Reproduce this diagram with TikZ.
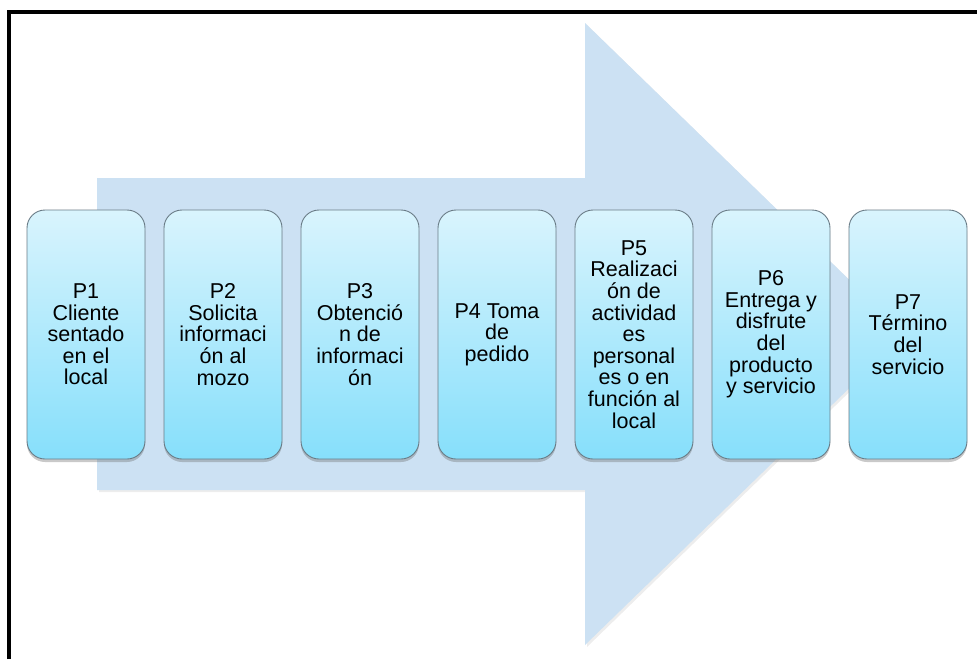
\documentclass[tikz,border=0pt]{standalone}
\usepackage{fontspec}
\setmainfont{Liberation Sans}
\usetikzlibrary{shadows}
\definecolor{arrowfill}{HTML}{CCE1F3}
\definecolor{boxtop}{HTML}{D9F4FD}
\definecolor{boxbottom}{HTML}{86DFFB}
\definecolor{boxline}{HTML}{6A7C87}
\tikzset{
  stepbox/.style={rectangle, rounded corners=18pt, draw=boxline, line width=0.9pt,
    top color=boxtop, bottom color=boxbottom,
    minimum width=118pt, minimum height=249pt, inner sep=1pt,
    align=center, font=\fontsize{21.5}{21.6}\selectfont,
    drop shadow={shadow xshift=0pt, shadow yshift=-3pt, opacity=0.35, fill=black!60}},
}
\begin{document}
\begin{tikzpicture}[x=1pt, y=-1pt]
  \useasboundingbox (0,0) rectangle (977,659);
  \fill[white] (0,0) rectangle (977,659);
  % frame on left and top
  \draw[line width=4pt, line join=miter] (9,659) -- (9,12) -- (977,12);
  % big process arrow behind the steps
  \fill[black, opacity=0.07] (99,180) -- (587,180) -- (587,25) -- (907,336)
    -- (587,647) -- (587,492) -- (99,492) -- cycle;
  \fill[arrowfill] (97,178) -- (585,178) -- (585,23) -- (905,334)
    -- (585,645) -- (585,490) -- (97,490) -- cycle;
  % the seven steps
  \node[stepbox] (p1) at (86,334.5) {P1\\Cliente\\sentado\\en el\\local};
  \node[stepbox] (p2) at (223,334.5) {P2\\Solicita\\informaci\\ón al\\mozo};
  \node[stepbox] (p3) at (360,334.5) {P3\\Obtenció\\n de\\informaci\\ón};
  \node[stepbox] (p4) at (497,334.5) {P4 Toma\\de\\pedido};
  \node[stepbox] (p5) at (634,334.5) {P5\\Realizaci\\ón de\\actividad\\es\\personal\\es o en\\función al\\local};
  \node[stepbox] (p6) at (771,334.5) {P6\\Entrega y\\disfrute\\del\\producto\\y servicio};
  \node[stepbox] (p7) at (908,334.5) {P7\\Término\\del\\servicio};
\end{tikzpicture}
\end{document}
